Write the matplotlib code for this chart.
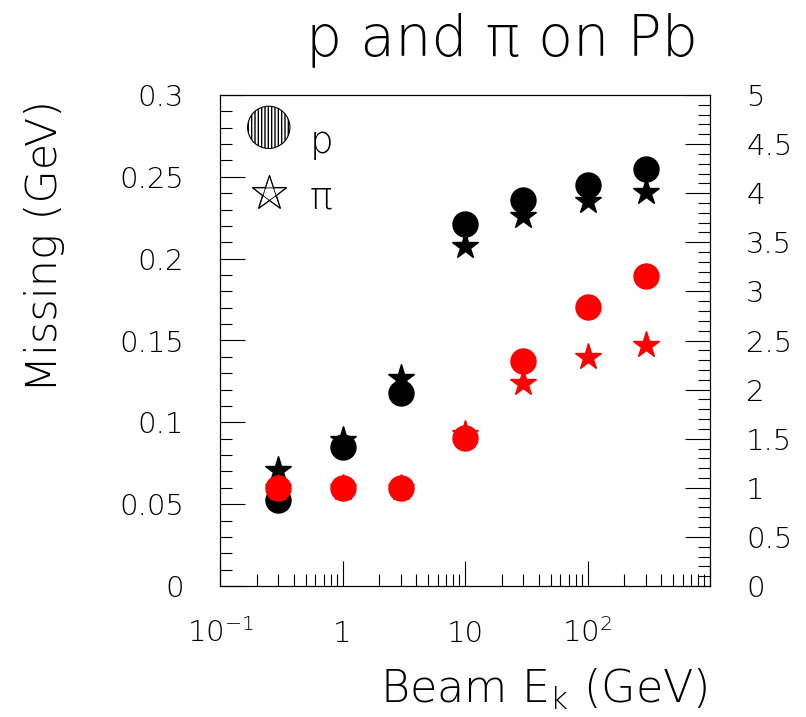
import matplotlib
matplotlib.use('Agg')
import matplotlib.pyplot as plt
from matplotlib.ticker import MultipleLocator, FixedLocator, LogLocator, NullFormatter, FuncFormatter
from matplotlib.lines import Line2D
from matplotlib.patches import Circle
from matplotlib.legend_handler import HandlerPatch, HandlerTuple
from matplotlib.path import Path
import numpy as np

# beam kinetic energy (GeV)
energy = [0.3, 1, 3, 10, 30, 100, 300]
# left scale: missing (GeV)
p_black = [0.0525, 0.085, 0.118, 0.221, 0.236, 0.245, 0.255]
pi_black = [0.071, 0.089, 0.127, 0.208, 0.226, 0.235, 0.241]
# right scale
p_red = [1.0, 1.0, 1.0, 1.51, 2.29, 2.84, 3.16]
pi_red = [1.0, 1.0, 1.0, 1.55, 2.07, 2.33, 2.45]

xtick_vals = [0.1, 1, 10, 100, 1000]
xtick_labels = [r'$10^{-1}$', '1', '10', r'$10^{2}$', '']

FONT = 'DejaVu Sans'
plt.rcParams['font.family'] = [FONT]
plt.rcParams['font.weight'] = 'light'
plt.rcParams['mathtext.fontset'] = 'custom'
plt.rcParams['mathtext.rm'] = FONT + ':light'
plt.rcParams['mathtext.it'] = FONT + ':light'
plt.rcParams['mathtext.default'] = 'rm'

fig = plt.figure(figsize=(8.06, 7.17), dpi=100)
ax = fig.add_axes([220/806, 1-586/717, 490/806, 491/717])
ax2 = ax.twinx()

lw = 0.8
for a in (ax, ax2):
    for s in a.spines.values():
        s.set_linewidth(lw)

ax.set_xscale('log')
ax.set_xlim(0.1, 1000)
ax.set_ylim(0, 0.3)
ax2.set_ylim(0, 5)

# black: stars below circles
ax.plot(energy, pi_black, ls='none', marker='*', ms=20, color='black', mec='black', zorder=2)
ax.plot(energy, p_black, ls='none', marker='o', ms=18, color='black', zorder=3)
ax2.plot(energy, pi_red, ls='none', marker='*', ms=20, color='red', mec='red', zorder=2)
ax2.plot(energy, p_red, ls='none', marker='o', ms=18, color='red', zorder=3)

fmt = FuncFormatter(lambda v, pos: '%g' % v)
ax.yaxis.set_major_locator(MultipleLocator(0.05))
ax.yaxis.set_minor_locator(MultipleLocator(0.01))
ax.yaxis.set_major_formatter(fmt)
ax2.yaxis.set_major_locator(MultipleLocator(0.5))
ax2.yaxis.set_minor_locator(MultipleLocator(0.1))
ax2.yaxis.set_major_formatter(fmt)

ax.xaxis.set_major_locator(FixedLocator(xtick_vals))
ax.set_xticklabels(xtick_labels)
ax.xaxis.set_minor_locator(LogLocator(base=10, subs=np.arange(2, 10)))
ax.xaxis.set_minor_formatter(NullFormatter())

ax.tick_params(axis='both', which='major', direction='in', length=18, width=lw, labelsize=21)
ax.tick_params(axis='both', which='minor', direction='in', length=8.5, width=lw)
ax.tick_params(axis='y', which='both', left=True, right=False, pad=26)
ax.tick_params(axis='x', which='both', top=False, pad=40)
ax2.tick_params(axis='y', which='major', direction='in', length=18, width=lw, labelsize=21, pad=26)
ax2.tick_params(axis='y', which='minor', direction='in', length=8.5, width=lw)
for lbl in ax.get_xticklabels():
    lbl.set_verticalalignment('baseline')


class HatchedCircle(HandlerPatch):
    def create_artists(self, legend, orig, xd, yd, w, h, fs, trans):
        r = 0.55 * h
        c = Circle((xd + w / 2, yd + h / 2), r, facecolor='white', edgecolor='black',
                   hatch='|||||', lw=0.8, transform=trans)
        return [c]


ang = np.pi / 2 + np.arange(5) * 2 * np.pi / 5
pts = [(np.cos(ang[i]), np.sin(ang[i])) for i in (0, 2, 4, 1, 3, 0)]
pentagram = Path(pts, [Path.MOVETO] + [Path.LINETO] * 5)

h_p = Circle((0, 0), 1)
h_pi = (Line2D([], [], ls='none', marker='*', ms=26, mfc='none', mec='black', mew=0.8),
        Line2D([], [], ls='none', marker=pentagram, ms=26, mfc='none', mec='black', mew=0.6))
leg = ax.legend([h_p, h_pi], ['p', 'π'], loc='upper left', frameon=False,
                fontsize=27, handlelength=1.2, handleheight=1.2, labelspacing=0.45,
                handletextpad=0.5, borderaxespad=0.3,
                handler_map={Circle: HatchedCircle(), tuple: HandlerTuple(ndivide=1)})

fig.text(698/806, 1-55/717, 'p and π on Pb', ha='right', va='baseline', fontsize=41)
fig.text(708/806, 1-703/717, r'Beam E$_{k}$ (GeV)', ha='right', va='baseline', fontsize=32)
fig.text(45/806, 1-100/717, 'Missing (GeV)', rotation=90, ha='center', va='top', fontsize=31)

fig.savefig('out.png', dpi=100)
